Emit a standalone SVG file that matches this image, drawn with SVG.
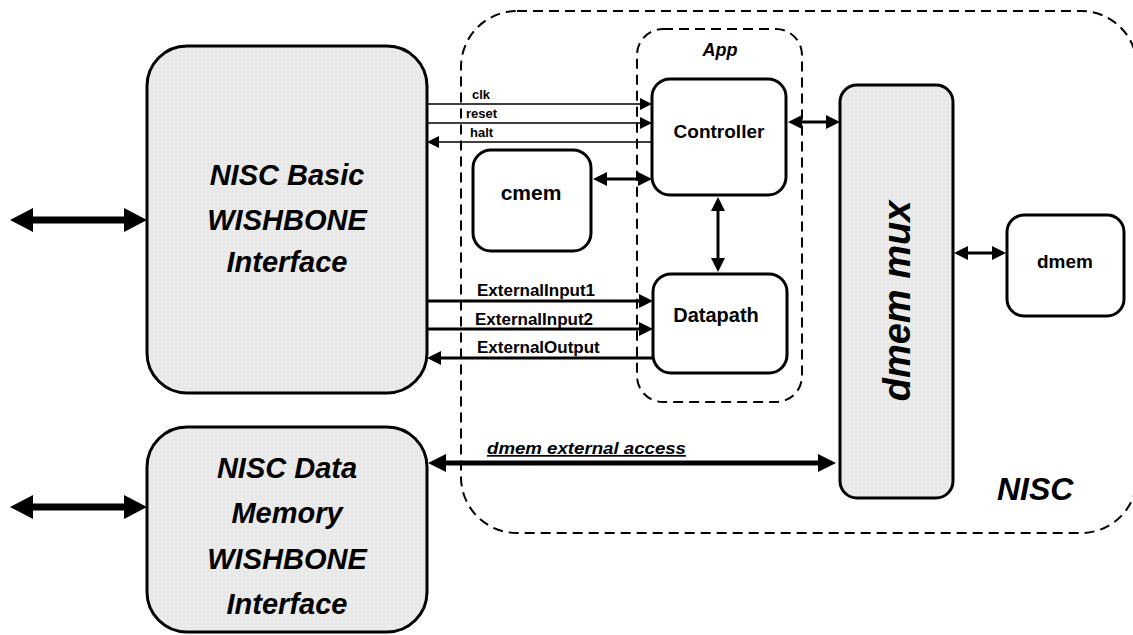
<svg xmlns="http://www.w3.org/2000/svg" width="1133" height="635" viewBox="0 0 1133 635">
<style>
.box{stroke:#000;stroke-width:3;}
.gray{fill:url(#dots);}
.white{fill:#fff;}
.dash{fill:none;stroke:#000;stroke-width:2;stroke-dasharray:10 6;}
.t{font-family:"Liberation Sans",Arial,sans-serif;font-weight:bold;fill:#000;}
.bi{font-style:italic;}
.ln{stroke:#000;fill:none;}
</style>
<defs>
<pattern id="dots" width="4" height="4" patternUnits="userSpaceOnUse"><rect width="4" height="4" fill="#e8e8e8"/><circle cx="2" cy="2" r="0.8" fill="#f6f6f6"/></pattern>
<marker id="aS" markerUnits="userSpaceOnUse" markerWidth="12" markerHeight="12" refX="0" refY="6" orient="auto-start-reverse" overflow="visible"><path d="M0,0 L12,6 L0,12 z" fill="#000"/></marker>
<marker id="aM" markerUnits="userSpaceOnUse" markerWidth="14" markerHeight="14" refX="0" refY="7" orient="auto-start-reverse" overflow="visible"><path d="M0,0 L14,7 L0,14 z" fill="#000"/></marker>
<marker id="aB" markerUnits="userSpaceOnUse" markerWidth="18" markerHeight="18" refX="0" refY="9" orient="auto-start-reverse" overflow="visible"><path d="M0,0 L18,9 L0,18 z" fill="#000"/></marker>
<marker id="aH" markerUnits="userSpaceOnUse" markerWidth="23" markerHeight="24" refX="0" refY="12" orient="auto-start-reverse" overflow="visible"><path d="M0,0 L23,12 L0,24 z" fill="#000"/></marker>
</defs>

<g id="nisc">
<rect class="dash" x="461" y="11" width="676" height="522" rx="56" ry="56"/>
<text class="t bi" x="997" y="500" font-size="32">NISC</text>
</g>
<g id="app">
<rect class="dash" x="637" y="29" width="165" height="373" rx="26" ry="26"/>
<text class="t bi" x="720" y="56" text-anchor="middle" font-size="18">App</text>
</g>

<g id="basic">
<rect class="box gray" x="147" y="46" width="280" height="347" rx="40" ry="40"/>
<text class="t bi" x="287" y="185" text-anchor="middle" font-size="29">NISC Basic</text>
<text class="t bi" x="287" y="230" text-anchor="middle" font-size="29">WISHBONE</text>
<text class="t bi" x="287" y="272" text-anchor="middle" font-size="29">Interface</text>
</g>
<g id="datamem">
<rect class="box gray" x="147" y="427" width="280" height="205" rx="40" ry="40"/>
<text class="t bi" x="287" y="478" text-anchor="middle" font-size="29">NISC Data</text>
<text class="t bi" x="287" y="523" text-anchor="middle" font-size="29">Memory</text>
<text class="t bi" x="287" y="569" text-anchor="middle" font-size="29">WISHBONE</text>
<text class="t bi" x="287" y="614" text-anchor="middle" font-size="29">Interface</text>
</g>
<g id="controller">
<rect class="box white" x="652" y="79" width="134" height="116" rx="18" ry="18"/>
<text class="t" x="719" y="138" text-anchor="middle" font-size="19">Controller</text>
</g>
<g id="datapath">
<rect class="box white" x="653" y="274" width="134" height="99" rx="18" ry="18"/>
<text class="t" x="716" y="322" text-anchor="middle" font-size="20">Datapath</text>
</g>
<g id="cmem">
<rect class="box white" x="473" y="150" width="118" height="101" rx="18" ry="18"/>
<text class="t" x="531" y="200" text-anchor="middle" font-size="21">cmem</text>
</g>
<g id="mux">
<rect class="box gray" x="840" y="85" width="113" height="413" rx="17" ry="17"/>
<text class="t bi" transform="translate(910,301) rotate(-90)" text-anchor="middle" font-size="38">dmem mux</text>
</g>
<g id="dmem">
<rect class="box white" x="1007" y="215" width="117" height="101" rx="17" ry="17"/>
<text class="t" x="1065" y="268" text-anchor="middle" font-size="19">dmem</text>
</g>

<g id="connectors">
<line class="ln" x1="33" y1="220" x2="124" y2="220" stroke-width="7" marker-start="url(#aH)" marker-end="url(#aH)"/>
<line class="ln" x1="33" y1="507" x2="124" y2="507" stroke-width="7" marker-start="url(#aH)" marker-end="url(#aH)"/>
<line class="ln" x1="427" y1="104" x2="640" y2="104" stroke-width="1.6" marker-end="url(#aS)"/>
<line class="ln" x1="427" y1="123" x2="640" y2="123" stroke-width="1.6" marker-end="url(#aS)"/>
<line class="ln" x1="652" y1="142" x2="439" y2="142" stroke-width="1.6" marker-end="url(#aS)"/>
<line class="ln" x1="427" y1="301" x2="639" y2="301" stroke-width="3" marker-end="url(#aM)"/>
<line class="ln" x1="427" y1="329" x2="639" y2="329" stroke-width="3" marker-end="url(#aM)"/>
<line class="ln" x1="653" y1="358" x2="441" y2="358" stroke-width="3" marker-end="url(#aM)"/>
<line class="ln" x1="607" y1="179" x2="638" y2="179" stroke-width="3" marker-start="url(#aM)" marker-end="url(#aM)"/>
<line class="ln" x1="718" y1="211" x2="718" y2="258" stroke-width="3" marker-start="url(#aM)" marker-end="url(#aM)"/>
<line class="ln" x1="802" y1="122" x2="826" y2="122" stroke-width="3" marker-start="url(#aM)" marker-end="url(#aM)"/>
<line class="ln" x1="968" y1="253" x2="992" y2="253" stroke-width="3" marker-start="url(#aM)" marker-end="url(#aM)"/>
<line class="ln" x1="446" y1="463" x2="818" y2="463" stroke-width="5" marker-start="url(#aB)" marker-end="url(#aB)"/>
<text class="t" x="472" y="99" font-size="13">clk</text>
<text class="t" x="466" y="118" font-size="13">reset</text>
<text class="t" x="470" y="137" font-size="13">halt</text>
<text class="t" x="477" y="296" font-size="17">ExternalInput1</text>
<text class="t" x="475" y="325" font-size="17">ExternalInput2</text>
<text class="t" x="477" y="353" font-size="17">ExternalOutput</text>
<text class="t bi" x="487" y="454" font-size="17" text-decoration="underline" textLength="199" lengthAdjust="spacingAndGlyphs">dmem external access</text>
</g>
</svg>
